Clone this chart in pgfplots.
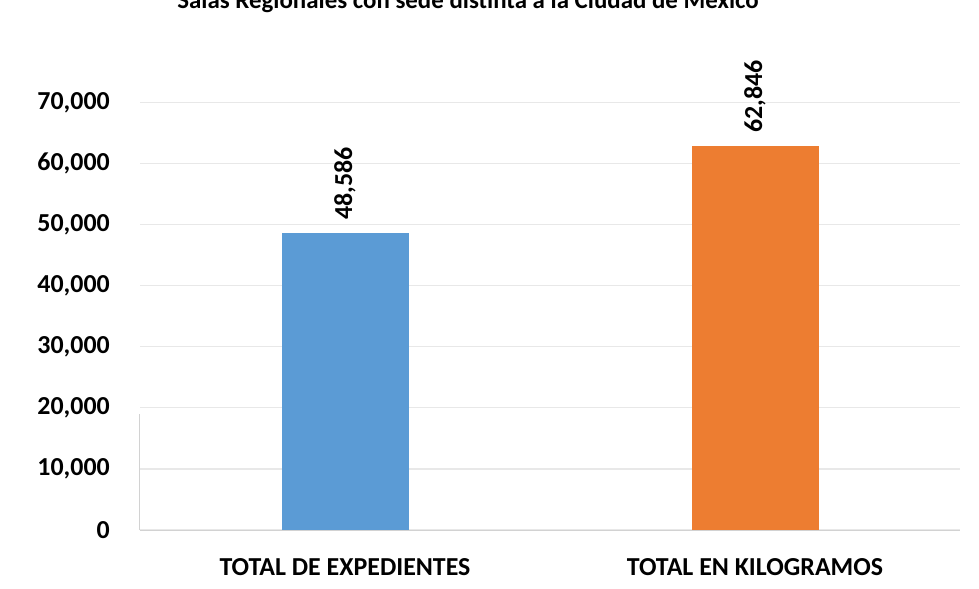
\documentclass[border=0pt]{standalone}
\usepackage{fontspec}
\setmainfont{Carlito}
\usepackage{pgfplots}
\pgfplotsset{compat=1.18}
\definecolor{barblue}{RGB}{91,155,213}
\definecolor{barorange}{RGB}{237,125,49}
\begin{document}
\begin{tikzpicture}
\path[use as bounding box] (-140bp,-59bp) rectangle (839bp,530bp);
\begin{axis}[
  at={(0,0)}, anchor=south west,
  scale only axis, width=820bp, height=488.8bp,
  xmin=-0.5, xmax=1.5, ymin=0, ymax=80000,
  xtick={0,1}, xticklabels={TOTAL DE EXPEDIENTES, TOTAL EN KILOGRAMOS},
  ytick={0,10000,20000,30000,40000,50000,60000,70000},
  ymajorgrids, grid style={gray!18, line width=1.2bp},
  axis x line*=bottom, axis y line*=left,
  axis line style={gray!35, line width=1bp},
  y axis line style={opacity=0},
  major tick length=0pt,
  /pgf/number format/.cd, 1000 sep={,}, assume math mode=true,
  /pgfplots/.cd,
  ticklabel style={font=\bfseries\fontsize{26}{30}\selectfont},
  yticklabel style={anchor=east, inner sep=0pt, xshift=-30bp},
  xticklabel style={anchor=north, inner sep=0pt, yshift=-28bp},
  scaled y ticks=false,
  ybar, bar width=127bp,
  nodes near coords,
  every node near coord/.append style={rotate=90, anchor=west, inner xsep=13bp, inner ysep=0pt, font=\bfseries\fontsize{26}{30}\selectfont, text=black},
  clip=false,
]
\draw[gray!35, line width=1bp] (axis cs:-0.5,0) -- (axis cs:-0.5,19000);
\addplot[fill=barblue, draw=none, bar shift=0pt] coordinates {(0,48586)};
\addplot[fill=barorange, draw=none, bar shift=0pt] coordinates {(1,62846)};
\end{axis}
\node[anchor=base, font=\bfseries\fontsize{25}{29}\selectfont] at (328bp,521bp) {Salas Regionales con sede distinta a la Ciudad de México};
\end{tikzpicture}
\end{document}
